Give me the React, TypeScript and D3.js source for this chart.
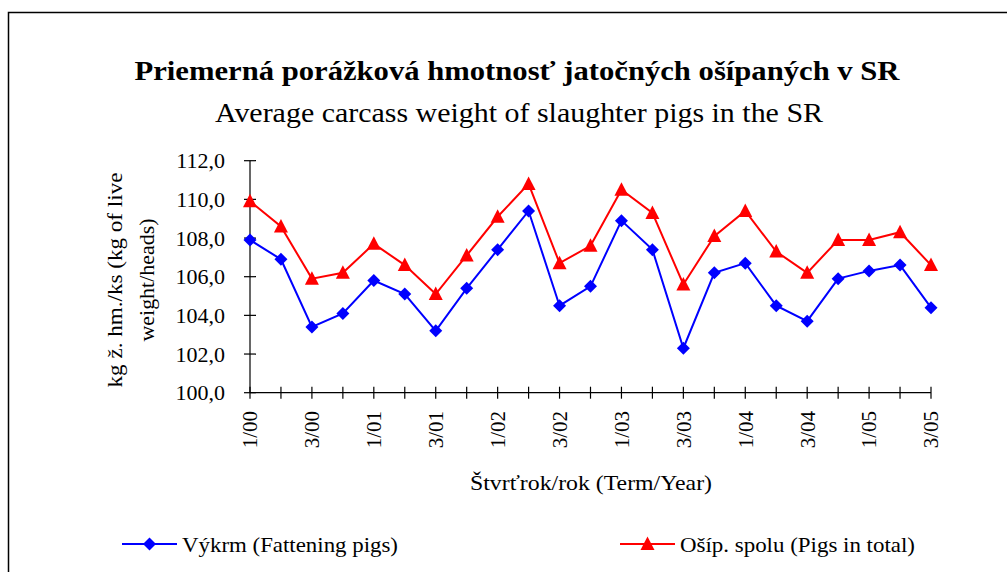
import React, { useEffect, useRef } from "react";
import * as d3 from "d3";

// štvrťroky 1/00 .. 3/05
const quarters = [
    "1/00", "2/00", "3/00", "4/00",
    "1/01", "2/01", "3/01", "4/01",
    "1/02", "2/02", "3/02", "4/02",
    "1/03", "2/03", "3/03", "4/03",
    "1/04", "2/04", "3/04", "4/04",
    "1/05", "2/05", "3/05",
];

// Výkrm (Fattening pigs)
const fattening = [
    107.9, 106.9, 103.4, 104.1, 105.8, 105.1, 103.2, 105.4, 107.4, 109.4, 104.5, 105.5,
    108.9, 107.4, 102.3, 106.2, 106.7, 104.5, 103.7, 105.9, 106.3, 106.6, 104.4,
];

// Ošíp. spolu (Pigs in total)
const total = [
    109.9, 108.6, 105.9, 106.2, 107.7, 106.6, 105.1, 107.1, 109.1, 110.8, 106.7, 107.6,
    110.5, 109.3, 105.6, 108.1, 109.4, 107.3, 106.2, 107.9, 107.9, 108.3, 106.6,
];

const yTicks = [100, 102, 104, 106, 108, 110, 112];
const xLabels = quarters.filter((d, i) => i % 2 === 0);

const W = 1007;
const H = 572;
const plot = { left: 250, right: 931, top: 160.7, bottom: 392.7 };
const FONT = "'Liberation Serif', 'Times New Roman', serif";

const diamond = "M0,-6.5L6.5,0L0,6.5L-6.5,0Z";
const triangle = "M0,-7.5L7,6L-7,6Z";

const App = () => {
    const ref = useRef(null);

    useEffect(() => {
        const svg = d3.select(ref.current);
        svg.selectAll("*").remove();

        const x = d3.scalePoint().domain(quarters).range([plot.left, plot.right]);
        const y = d3.scaleLinear().domain([100, 112]).range([plot.bottom, plot.top]);

        // rámček
        svg.append("rect")
            .attr("x", 8.5)
            .attr("y", 12.5)
            .attr("width", 1100)
            .attr("height", 700)
            .attr("fill", "white")
            .attr("stroke", "black")
            .attr("stroke-width", 1.5);

        // nadpisy
        svg.append("text")
            .attr("x", 517)
            .attr("y", 80)
            .attr("text-anchor", "middle")
            .attr("font-family", FONT)
            .attr("font-weight", "bold")
            .attr("font-size", 28)
            .attr("textLength", 765)
            .attr("lengthAdjust", "spacingAndGlyphs")
            .text("Priemerná porážková hmotnosť jatočných ošípaných v SR");

        svg.append("text")
            .attr("x", 519)
            .attr("y", 122)
            .attr("text-anchor", "middle")
            .attr("font-family", FONT)
            .attr("font-size", 28)
            .attr("textLength", 608)
            .attr("lengthAdjust", "spacingAndGlyphs")
            .text("Average carcass weight of slaughter pigs in the SR");

        // osi
        const axis = svg.append("g").attr("stroke", "black").attr("stroke-width", 1.2);
        axis.append("line")
            .attr("x1", plot.left).attr("x2", plot.left)
            .attr("y1", plot.top).attr("y2", plot.bottom);
        axis.append("line")
            .attr("x1", plot.left).attr("x2", plot.right)
            .attr("y1", plot.bottom).attr("y2", plot.bottom);
        axis.selectAll(".yt")
            .data(yTicks)
            .join("line")
            .attr("x1", plot.left - 6).attr("x2", plot.left + 6)
            .attr("y1", (d) => y(d)).attr("y2", (d) => y(d));
        axis.selectAll(".xt")
            .data(quarters)
            .join("line")
            .attr("x1", (d) => x(d)).attr("x2", (d) => x(d))
            .attr("y1", plot.bottom - 6).attr("y2", plot.bottom + 6);

        svg.append("g")
            .selectAll("text")
            .data(yTicks)
            .join("text")
            .attr("x", 225)
            .attr("y", (d) => y(d))
            .attr("dy", "0.35em")
            .attr("text-anchor", "end")
            .attr("font-family", FONT)
            .attr("font-size", 22)
            .text((d) => d.toFixed(1).replace(".", ","));

        svg.append("g")
            .selectAll("text")
            .data(xLabels)
            .join("text")
            .attr("transform", (d) => `translate(${x(d)},411) rotate(-90)`)
            .attr("dy", "0.35em")
            .attr("text-anchor", "end")
            .attr("font-family", FONT)
            .attr("font-size", 21)
            .text((d) => d);

        // názvy osí
        const yTitle = svg.append("text")
            .attr("transform", "translate(0,280) rotate(-90)")
            .attr("text-anchor", "middle")
            .attr("font-family", FONT)
            .attr("font-size", 22);
        yTitle.append("tspan")
            .attr("x", 0).attr("y", 122)
            .attr("textLength", 215)
            .attr("lengthAdjust", "spacingAndGlyphs")
            .text("kg ž. hm./ks (kg of live");
        yTitle.append("tspan")
            .attr("x", 0).attr("y", 154)
            .attr("textLength", 123)
            .attr("lengthAdjust", "spacingAndGlyphs")
            .text("weight/heads)");

        svg.append("text")
            .attr("x", 591)
            .attr("y", 490)
            .attr("text-anchor", "middle")
            .attr("font-family", FONT)
            .attr("font-size", 22)
            .attr("textLength", 242)
            .attr("lengthAdjust", "spacingAndGlyphs")
            .text("Štvrťrok/rok (Term/Year)");

        // série
        const series = [
            { values: total, color: "#ff0000", marker: triangle },
            { values: fattening, color: "#0000ff", marker: diamond },
        ];
        const line = d3.line().x((d, i) => x(quarters[i])).y((d) => y(d));

        series.forEach((s) => {
            svg.append("path")
                .datum(s.values)
                .attr("d", line)
                .attr("fill", "none")
                .attr("stroke", s.color)
                .attr("stroke-width", 2);
            svg.append("g")
                .selectAll("path")
                .data(s.values)
                .join("path")
                .attr("transform", (d, i) => `translate(${x(quarters[i])},${y(d)})`)
                .attr("d", s.marker)
                .attr("fill", s.color);
        });

        // legenda
        const legend = [
            { label: "Výkrm (Fattening pigs)", color: "#0000ff", marker: diamond, x: 122, len: 216 },
            { label: "Ošíp. spolu (Pigs in total)", color: "#ff0000", marker: triangle, x: 620, len: 235 },
        ];
        legend.forEach((l) => {
            const g = svg.append("g").attr("transform", `translate(${l.x},544)`);
            g.append("line")
                .attr("x1", 0).attr("x2", 55)
                .attr("stroke", l.color).attr("stroke-width", 2);
            g.append("path")
                .attr("transform", "translate(27.5,0)")
                .attr("d", l.marker)
                .attr("fill", l.color);
            g.append("text")
                .attr("x", 60)
                .attr("dy", "0.35em")
                .attr("font-family", FONT)
                .attr("font-size", 22)
                .attr("textLength", l.len)
                .attr("lengthAdjust", "spacingAndGlyphs")
                .text(l.label);
        });
    }, []);

    return (
        <svg
            ref={ref}
            width={W}
            height={H}
            style={{ position: "absolute", left: 0, top: 0, display: "block" }}
        />
    );
};

export default App;
